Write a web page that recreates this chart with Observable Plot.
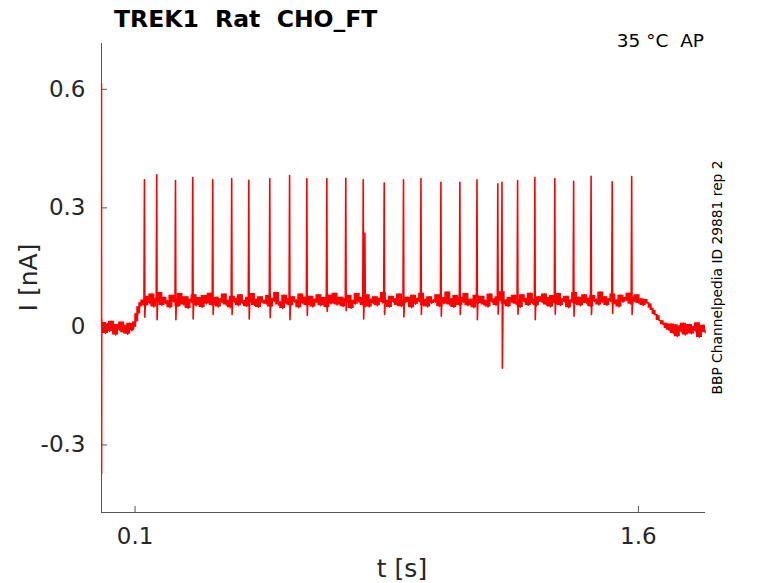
<!DOCTYPE html>
<html><head><meta charset="utf-8">
<script src="https://cdn.jsdelivr.net/npm/d3@7"></script>
<script src="https://cdn.jsdelivr.net/npm/@observablehq/plot@0.6"></script>
<style>body{margin:0;background:#fff} svg{display:block}</style>
</head><body><div id="chart"></div>
<script>
// ---- texts ----
const titleText = "TREK1  Rat  CHO_FT";
const condText = "35 °C  AP";
const sideText = "BBP Channelpedia ID 29881 rep 2";
const xLabel = "t [s]";
const yLabel = "I [nA]";

// ---- axes ----
const xDomain = [0, 1.8];
const yDomain = [-0.471, 0.716];
const xTicks = [0.1, 1.6];
const xTickLabels = ["0.1", "1.6"];
const yTicks = [-0.3, 0, 0.3, 0.6];
const yTickLabels = ["-0.3", "0", "0.3", "0.6"];

// ---- recorded current trace (pA), sampled every 6 ms from t = 0 ----
const traceStart = 0;
const traceStep = 0.006;
const tracePA = [
  -4, 10, -18, 7, -13, 13, -7, -22, 5, -10, 11, -16, 3, -20, 8, -11, -2,
  12, 32, 50, 60,
  67, 52, 76, 58, 82, 49, 71, 62, 86, 53, 74, 57,
  65, 47, 79, 61, 70, 50, 83, 63, 54, 75, 45, 69,
  60, 80, 52, 73, 62, 48, 78, 57, 67, 84, 53, 63,
  74, 49, 70, 60, 82, 54, 66, 47, 76, 61, 71, 52,
  80, 58, 65, 50, 74, 62, 83, 53, 69, 48, 75, 60,
  66, 56, 78, 49, 71, 63, 86, 54, 62, 45, 79, 57,
  70, 52, 75, 61, 67, 47, 82, 58, 74, 53, 65, 76,
  49, 69, 60, 80, 52, 73, 63, 48, 79, 57, 67, 84,
  54, 62, 74, 50, 70, 60, 78, 45, 66, 56, 83, 61,
  73, 53, 63, 80, 49, 69, 58, 75, 52, 71, 62, 86,
  57, 66, 48, 76, 61, 70, 53, 82, 50, 67, 60, 74,
  65, 47, 79, 56, 71, 62, 84, 52, 69, 49, 75, 58,
  67, 61, 80, 50, 73, 57, 65, 87, 54, 70, 48, 78,
  62, 53, 74, 60, 83, 52, 69, 63, 47, 79, 58, 71,
  76, 54, 66, 49, 82, 61, 70, 53, 75, 65, 88, 57,
  67, 50, 73, 60, 79, 56, 63, 48, 80, 62, 71, 53,
  84, 58, 69, 52, 75, 66, 61, 82, 54, 73, 49, 78,
  63, 57, 83, 53, 70, 62, 76, 47, 67, 60, 86, 56,
  74, 52, 66, 80, 58, 71, 50, 78, 62, 69, 54, 87,
  60, 75, 53, 70, 63, 82, 57, 67, 49, 79, 61, 73,
  65, 84, 56, 74, 62, 80, 58, 70, 53,
  68, 60, 57, 46, 40, 30, 27, 15, 14, 4, 8, -5,
  -10, 6, -18, 4, -26, 1, -14, 8, -22, -3, 5, -19, 0, -12, 9, -28, -5, 3, -16
];

// ---- capacitive transient at stimulus onset (nA) ----
const transT = [0, 0.0003, 0.0006, 0.001, 0.0015];
const transV = [0, 0.615, -0.373, 0.02, -0.004];

// ---- action-potential-clamp spikes ----
const spikeBase = 0.068;
const spikeT = [0.128, 0.1645, 0.2205, 0.272, 0.3315, 0.388, 0.439, 0.5015, 0.5605, 0.612,
  0.6715, 0.728, 0.780, 0.785, 0.8425, 0.900, 0.952, 1.0115, 1.068, 1.119,
  1.181, 1.1935, 1.240, 1.2915, 1.351, 1.407, 1.459, 1.522, 1.580];
const spikePeak = [0.371, 0.384, 0.369, 0.377, 0.371, 0.374, 0.370, 0.374, 0.382, 0.374,
  0.374, 0.375, 0.371, 0.236, 0.363, 0.371, 0.374, 0.365, 0.365, 0.371,
  0.361, 0.365, 0.369, 0.377, 0.374, 0.367, 0.380, 0.366, 0.379];
const spikeDip = [0.023, 0.017, 0.017, 0.019, 0.030, 0.030, 0.019, 0.022, 0.017, 0.028,
  0.038, 0.040, 0.019, 0.050, 0.030, 0.024, 0.030, 0.026, 0.030, 0.017,
  0.031, -0.106, 0.031, 0.017, 0.031, 0.026, 0.030, 0.033, 0.030];

// ---- build tables ----
const trace = tracePA.map((v, i) => ({t: traceStart + i * traceStep, v: v / 1000}));
const transient = transT.map((t, i) => ({t, v: transV[i]}));
const spikeRows = spikeT.flatMap((t, k) => [
  {k, t: t - 0.0015, v: spikeBase},
  {k, t, v: spikePeak[k]},
  {k, t: t + 0.0012, v: spikeDip[k]},
  {k, t: t + 0.003, v: spikeBase}
]);

const W = 778, H = 583, mL = 101, mR = 73, mT = 43, mB = 71;
const red = "#ff0000", axisColor = "#555555", labelColor = "#262626";

const svg = Plot.plot({
  width: W, height: H,
  marginLeft: mL, marginRight: mR, marginTop: mT, marginBottom: mB,
  x: {domain: xDomain, axis: null},
  y: {domain: yDomain, axis: null},
  style: {fontFamily: "'DejaVu Sans', sans-serif", background: "white", overflow: "visible"},
  marks: [
    // noise envelope of the trace (local min/max of the recorded samples)
    Plot.areaY(trace, Plot.map(
      {y1: Plot.window({k: 3, reduce: "min"}), y2: Plot.window({k: 3, reduce: "max"})},
      {x: "t", y1: "v", y2: "v", fill: red, curve: "step"})),
    Plot.line(trace, {x: "t", y: "v", stroke: red, strokeWidth: 1.3}),
    Plot.line(spikeRows, {x: "t", y: "v", z: "k", stroke: red, strokeWidth: 1.6}),
    Plot.line(transient, {x: "t", y: "v", stroke: red, strokeWidth: 1.4}),
    Plot.ruleX([xDomain[0]], {stroke: axisColor, strokeWidth: 1}),
    Plot.ruleY([yDomain[0]], {stroke: axisColor, strokeWidth: 1}),
    Plot.ruleX(xTicks, {stroke: axisColor, insetTop: H - mT - mB - 6}),
    Plot.ruleY(yTicks, {stroke: axisColor, insetRight: W - mL - mR - 6}),
    Plot.text(xTicks, {x: d => d, frameAnchor: "bottom", lineAnchor: "top", dy: 15,
      text: (d, i) => xTickLabels[i], fontSize: 23, fill: labelColor}),
    Plot.text(yTicks, {y: d => d, frameAnchor: "left", textAnchor: "end", dx: -16,
      text: (d, i) => yTickLabels[i], fontSize: 23, fill: labelColor})
  ]
});

const s = d3.select(svg);
s.append("text").attr("x", 114).attr("y", 27).attr("text-anchor", "start")
  .attr("font-size", 23.5).attr("font-weight", "bold").attr("fill", "#000")
  .style("white-space", "pre").text(titleText);
s.append("text").attr("x", 704).attr("y", 47).attr("text-anchor", "end")
  .attr("font-size", 18.5).attr("fill", "#000")
  .style("white-space", "pre").text(condText);
s.append("text").attr("transform", "translate(722,277.5) rotate(-90)")
  .attr("text-anchor", "middle").attr("font-size", 13.8).attr("fill", "#000")
  .text(sideText);
s.append("text").attr("transform", "translate(37,277.5) rotate(-90)")
  .attr("text-anchor", "middle").attr("font-size", 25).attr("fill", labelColor)
  .text(yLabel);
s.append("text").attr("x", 402).attr("y", 577)
  .attr("text-anchor", "middle").attr("font-size", 25).attr("fill", labelColor)
  .text(xLabel);

document.getElementById("chart").appendChild(svg);
</script>
</body></html>
